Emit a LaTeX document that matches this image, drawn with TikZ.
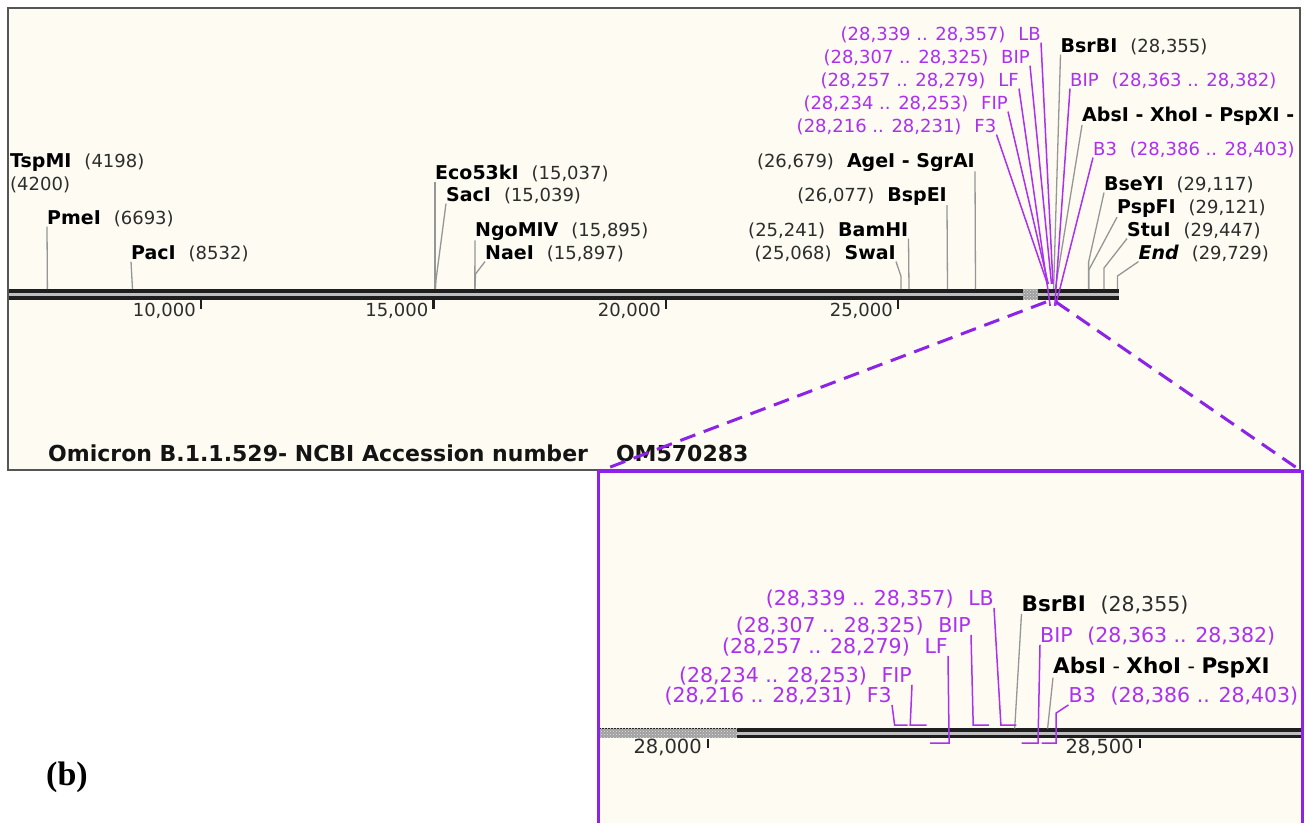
\documentclass[tikz,border=0pt]{standalone}
\usepackage{fontspec}
\setmainfont{DejaVu Sans}
\newfontfamily\panelfont{Liberation Serif}
\usetikzlibrary{patterns}
\definecolor{paper}{RGB}{253,251,242}
\definecolor{frame}{RGB}{85,85,85}
\definecolor{primer}{RGB}{172,48,240}
\definecolor{zoomline}{RGB}{140,35,230}
\definecolor{numtxt}{RGB}{45,45,45}
\definecolor{siteg}{RGB}{150,150,150}
\def\enzsize{19}
\newcommand{\enz}[1]{{\fontsize{\enzsize}{\enzsize}\selectfont\bfseries\color{black}#1}}
\newcommand{\gap}{\hspace{0.72em}}

\begin{document}
\begin{tikzpicture}[x=1pt, y=-1pt,
  font=\fontsize{18}{20}\selectfont,
  lbl/.style={inner sep=0pt, text=numtxt},
  plbl/.style={inner sep=0pt, text=primer},
  zoomfont/.style={font=\fontsize{20.5}{22}\selectfont\def\enzsize{21.5}},
  siteline/.style={draw=siteg, line width=1.3pt},
  primerline/.style={draw=primer, line width=1.5pt},
  seqline/.style={draw=black!88, line width=4pt, double=gray!50, double distance=3pt},
  scaletick/.style={draw=black!88, line width=2.2pt},
  zoomedge/.style={draw=zoomline, line width=3pt, dash pattern=on 16pt off 9pt},
  hatched/.style={fill=gray!75, postaction={pattern=crosshatch dots, pattern color=gray!20}}
]
\useasboundingbox (0,0) rectangle (1307,823);

% frames
\filldraw[fill=paper, draw=frame, line width=1.5pt] (8,8) rectangle (1300,470);
\fill[paper] (598,471) rectangle (1302,823);
\draw[zoomline, line width=3pt] (598.5,823) -- (598.5,471.5) -- (1302,471.5) -- (1302,823);

% whole genome map
\coordinate (seqL) at (8.75,294.5);
\coordinate (seqR) at (1118.5,294.5);
\draw[seqline] (seqL) -- (seqR);
\fill[hatched] (1023,289) rectangle (1038,300);

\coordinate (k10) at (201,300);
\coordinate (k15) at (433.5,300);
\coordinate (k20) at (666,300);
\coordinate (k25) at (898,300);
\draw[scaletick] (k10) -- ++(0,9);
\draw[scaletick] (k15) -- ++(0,9);
\draw[scaletick] (k20) -- ++(0,9);
\draw[scaletick] (k25) -- ++(0,9);
\node[lbl, anchor=base east] (k10lbl) at (196,316) {10,000};
\node[lbl, anchor=base east] (k15lbl) at (428.5,316) {15,000};
\node[lbl, anchor=base east] (k20lbl) at (661,316) {20,000};
\node[lbl, anchor=base east] (k25lbl) at (893,316) {25,000};

% enzyme sites
\node[lbl, anchor=base west] (tspmi) at (10,167) {\enz{TspMI}\gap(4198)};
\node[lbl, anchor=base west] (tspmib) at (10,190) {(4200)};
\node[lbl, anchor=base west] (pmei) at (47,224) {\enz{PmeI}\gap(6693)};
\node[lbl, anchor=base west] (paci) at (131,259) {\enz{PacI}\gap(8532)};
\node[lbl, anchor=base west] (eco) at (435,179) {\enz{Eco53kI}\gap(15,037)};
\node[lbl, anchor=base west] (saci) at (446,201) {\enz{SacI}\gap(15,039)};
\node[lbl, anchor=base west] (ngo) at (475,236) {\enz{NgoMIV}\gap(15,895)};
\node[lbl, anchor=base west] (naei) at (485,259) {\enz{NaeI}\gap(15,897)};
\node[lbl, anchor=base east] (swai) at (896,259) {(25,068)\gap\enz{SwaI}};
\node[lbl, anchor=base east] (bamhi) at (908.5,236) {(25,241)\gap\enz{BamHI}};
\node[lbl, anchor=base east] (bspei) at (947,201) {(26,077)\gap\enz{BspEI}};
\node[lbl, anchor=base east] (agei) at (975,167) {(26,679)\gap\enz{AgeI - SgrAI}};
\node[lbl, anchor=base west] (bsrbi) at (1060.5,52) {\enz{BsrBI}\gap(28,355)};
\node[lbl, anchor=base west] (absi) at (1082,121) {\enz{AbsI - XhoI - PspXI -}};
\node[lbl, anchor=base west] (bseyi) at (1104,190) {\enz{BseYI}\gap(29,117)};
\node[lbl, anchor=base west] (pspfi) at (1117,213) {\enz{PspFI}\gap(29,121)};
\node[lbl, anchor=base west] (stui) at (1127,236) {\enz{StuI}\gap(29,447)};
\node[lbl, anchor=base west] (endm) at (1138.5,259) {\enz{\itshape End}\gap(29,729)};

\coordinate (sPmeI) at (47.4,289);
\coordinate (sPacI) at (132.5,289);
\coordinate (sEco) at (435,289);
\coordinate (sSacI) at (435.5,289);
\coordinate (sNgo) at (474.8,289);
\coordinate (sNae) at (475,289);
\coordinate (sSwaI) at (900.9,289);
\coordinate (sBamHI) at (909,289);
\coordinate (sBspEI) at (947.5,289);
\coordinate (sAgeI) at (975.5,289);
\coordinate (sBsrBI) at (1053.6,289);
\coordinate (sAbsI) at (1055.3,289);
\coordinate (sBseYI) at (1088.6,289);
\coordinate (sPspFI) at (1088.8,289);
\coordinate (sStuI) at (1104,289);
\coordinate (sEnd) at (1117.5,289);

\draw[siteline] (pmei.south west) -- (sPmeI);
\draw[siteline] (paci.south west) -- (sPacI);
\draw[siteline] (eco.south west) -- (sEco);
\draw[siteline] (saci.south west) -- (436,280) -- (sSacI);
\draw[siteline] (ngo.south west) -- (sNgo);
\draw[siteline] (naei.south west) -- (475.5,274) -- (sNae);
\draw[siteline] (swai.south east) -- (900.9,276) -- (sSwaI);
\draw[siteline] (bamhi.south east) -- (sBamHI);
\draw[siteline] (bspei.south east) -- (sBspEI);
\draw[siteline] (agei.south east) -- (sAgeI);
\draw[siteline] (bsrbi.south west) -- (sBsrBI);
\draw[siteline] (absi.south west) -- (sAbsI);
\draw[siteline] (bseyi.south west) -- (1088.6,262) -- (sBseYI);
\draw[siteline] (pspfi.south west) -- (1088.8,270) -- (sPspFI);
\draw[siteline] (stui.south west) -- (1104,268) -- (sStuI);
\draw[siteline] (endm.south west) -- (1117.5,276) -- (sEnd);

% LAMP primers
\node[plbl, anchor=base east] (pLB) at (1041,40) {(28,339 .. 28,357)\gap LB};
\node[plbl, anchor=base east] (pBIPf) at (1030,63) {(28,307 .. 28,325)\gap BIP};
\node[plbl, anchor=base east] (pLF) at (1019,86) {(28,257 .. 28,279)\gap LF};
\node[plbl, anchor=base east] (pFIP) at (1008,109) {(28,234 .. 28,253)\gap FIP};
\node[plbl, anchor=base east] (pF3) at (996.5,132) {(28,216 .. 28,231)\gap F3};
\node[plbl, anchor=base west] (pBIPr) at (1070,86) {BIP\gap(28,363 .. 28,382)};
\node[plbl, anchor=base west] (pB3) at (1093,155) {B3\gap(28,386 .. 28,403)};

\draw[primerline] (pF3.south east) -- (1047.1,283) -- (1047.8,283);
\draw[primerline] (pFIP.south east) -- (1048,283) -- (1048.9,283);
\draw[primerline] (pBIPf.south east) -- (1051.4,283) -- (1052.2,283);
\draw[primerline] (pLB.south east) -- (1052.9,283) -- (1053.7,283);
\draw[primerline] (pLF.south east) -- (1050.1,305) -- (1049,305);
\draw[primerline] (pBIPr.south west) -- (1054.8,305) -- (1054,305);
\draw[primerline] (pB3.south west) -- (1055.8,305) -- (1055,305);

\node[anchor=base west, inner sep=0pt, text=black!92,
  font=\fontsize{22}{24}\selectfont\bfseries] (title) at (48,461)
  {Omicron B.1.1.529- NCBI Accession number\hspace{28pt}OM570283};

% zoomed region 28,000 .. 28,500
\coordinate (zoomL) at (1046,302);
\coordinate (zoomR) at (1056,302);
\coordinate (insetTL) at (598.5,471.5);
\coordinate (insetTR) at (1302,471.5);
\draw[zoomedge] (zoomL) -- (insetTL);
\draw[zoomedge] (zoomR) -- (insetTR);

\coordinate (zseqL) at (599.5,733);
\coordinate (zseqR) at (1300.5,733);
\draw[seqline, line width=3.5pt] (zseqL) -- (zseqR);
\fill[hatched] (600,728.5) rectangle (737,737.5);

\coordinate (z28000) at (708,739);
\coordinate (z28500) at (1140,739);
\draw[scaletick] (z28000) -- ++(0,9);
\draw[scaletick] (z28500) -- ++(0,9);
\node[lbl, anchor=base east, font=\fontsize{19.5}{21}\selectfont] (z28000lbl) at (702,753) {28,000};
\node[lbl, anchor=base east, font=\fontsize{19.5}{21}\selectfont] (z28500lbl) at (1134,753) {28,500};

\node[plbl, zoomfont, anchor=base east] (ipLB) at (994,605) {(28,339 .. 28,357)\gap LB};
\node[plbl, zoomfont, anchor=base east] (ipBIPf) at (971,632) {(28,307 .. 28,325)\gap BIP};
\node[plbl, zoomfont, anchor=base east] (ipLF) at (948,653) {(28,257 .. 28,279)\gap LF};
\node[plbl, zoomfont, anchor=base east] (ipFIP) at (912,682) {(28,234 .. 28,253)\gap FIP};
\node[plbl, zoomfont, anchor=base east] (ipF3) at (892,702) {(28,216 .. 28,231)\gap F3};
\node[plbl, zoomfont, anchor=base west] (ipBIPr) at (1040,642) {BIP\gap(28,363 .. 28,382)};
\node[plbl, zoomfont, anchor=base west] (ipB3) at (1068.5,702) {B3\gap(28,386 .. 28,403)};
\node[lbl, zoomfont, anchor=base west] (ipBsrBI) at (1021.5,611) {\enz{BsrBI}\gap(28,355)};
\node[lbl, zoomfont, anchor=base west, text=black] (ipAbsI) at (1053,673) {\enz{AbsI} - \enz{XhoI} - \enz{PspXI}};

\coordinate (iBsrBI) at (1014.7,728.5);
\coordinate (iAbsI) at (1047.6,728.5);
\draw[siteline] (ipBsrBI.south west) -- (iBsrBI);
\draw[siteline] (ipAbsI.south west) -- (iAbsI);

\draw[primerline] (ipF3.south east) -- (894.6,725) -- (907.6,725);
\draw[primerline] (ipFIP.south east) -- (910.2,725) -- (926.6,725);
\draw[primerline] (ipBIPf.south east) -- (973.2,725) -- (988.8,725);
\draw[primerline] (ipLB.south east) -- (1000.9,725) -- (1016.4,725);
\draw[primerline] (ipLF.south east) -- (949.1,743) -- (930,743);
\draw[primerline] (ipBIPr.south west) -- (1038,743) -- (1021.6,743);
\draw[primerline] (ipB3.south west) -- (1056.2,713) -- (1056.2,743) -- (1041.5,743);

\node[font=\panelfont\fontsize{34}{36}\selectfont\bfseries] (panel) at (67,777) {(b)};
\end{tikzpicture}
\end{document}
